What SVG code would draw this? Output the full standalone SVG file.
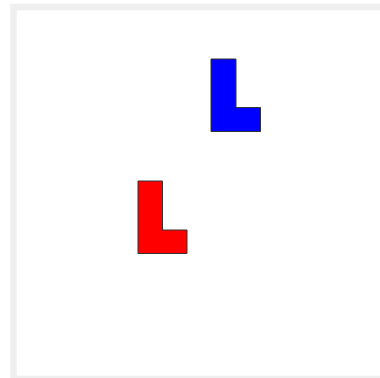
<svg xmlns="http://www.w3.org/2000/svg" width="380" height="378" viewBox="0 0 380 378">
<style>
.piece{stroke:#333;stroke-width:1;stroke-linejoin:miter}
</style>
<rect width="380" height="378" fill="#fff"/>
<rect x="13.5" y="7" width="400" height="372" fill="#fff" stroke="#efefef" stroke-width="6.5"/>
<g id="blue-L">
<polygon class="piece" fill="#0000ff" points="211,59 236,59 236,107.5 260.5,107.5 260.5,131.5 211,131.5"/>
</g>
<g id="red-L">
<polygon class="piece" fill="#ff0000" points="138,181 162.5,181 162.5,230 187,230 187,253.5 138,253.5"/>
</g>
<g id="connectors"></g>
</svg>
